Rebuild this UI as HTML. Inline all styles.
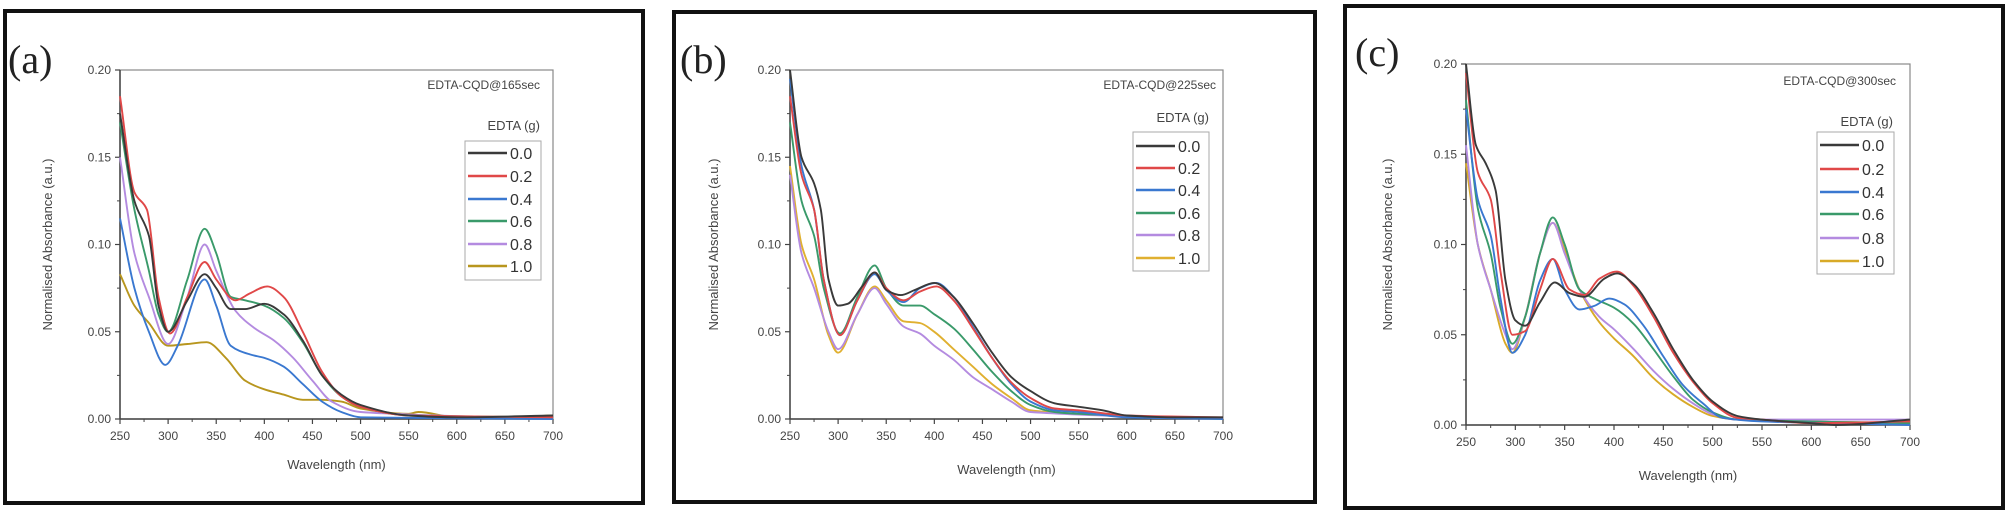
<!DOCTYPE html>
<html><head><meta charset="utf-8">
<style>
html,body{margin:0;padding:0;background:#fff;}
body{width:2008px;height:513px;overflow:hidden;position:relative;}
svg{position:absolute;left:0;top:0;}
</style></head>
<body>
<svg id="s" width="2008" height="513" xmlns="http://www.w3.org/2000/svg" font-family="Liberation Sans, sans-serif">
<rect x="5" y="11" width="638" height="492" fill="none" stroke="#111" stroke-width="4"/>
<rect x="674" y="12" width="641" height="490" fill="none" stroke="#111" stroke-width="4"/>
<rect x="1345" y="6" width="658" height="502" fill="none" stroke="#111" stroke-width="4"/>
</svg>
<script>
const S=document.getElementById('s');const NS='http://www.w3.org/2000/svg';
function el(t,a,txt){const e=document.createElementNS(NS,t);for(const k in a)e.setAttribute(k,a[k]);if(txt!==undefined)e.textContent=txt;S.appendChild(e);return e;}
const C={k:'#3a3a3a',r:'#e04848',b:'#3a78d0',g:'#3a9a6a',p:'#b48be0'};
function P(a){const o=[];for(let i=0;i<a.length;i+=2)o.push([a[i],a[i+1]]);return o;}
const panels=[
{L:120,R:553,T:70,B:419,lab:'(a)',lx:8,ly:73,title:'EDTA-CQD@165sec',tx:540,ty:89,ex:540,ey:130,box:[465,141,76,139],ent:[153,176,199,221,244,266],xly:469,gold:'#b8961e',
 yl:'Normalised  Absorbance (a.u.)',ylx:52,
 s:{k:P([250,.175,265,.125,280,.105,290,.065,300,.05,320,.068,338,.083,350,.075,365,.063,380,.063,400,.066,420,.06,440,.045,460,.025,480,.014,500,.008,550,.002,600,.001,700,.002]),
 r:P([250,.185,265,.13,278,.12,290,.07,302,.049,320,.07,338,.09,350,.08,370,.068,385,.072,403,.076,420,.07,440,.05,460,.027,480,.013,500,.007,550,.002,700,.001]),
 b:P([250,.115,265,.075,280,.05,297,.031,310,.042,338,.08,350,.065,365,.042,385,.037,400,.035,420,.03,440,.02,460,.01,480,.004,500,.001,700,0]),
 g:P([250,.17,265,.12,280,.085,290,.06,300,.05,320,.08,338,.109,350,.095,365,.07,380,.068,400,.065,420,.058,440,.044,460,.025,480,.013,500,.007,550,.002,700,.001]),
 p:P([250,.15,265,.095,280,.07,300,.043,320,.07,338,.1,350,.085,370,.062,390,.052,410,.045,430,.035,450,.022,470,.01,500,.004,700,0]),
 y:P([250,.083,265,.065,280,.055,300,.042,320,.043,340,.044,360,.035,380,.022,400,.017,420,.014,440,.011,460,.011,480,.01,500,.006,550,.003,560,.004,600,.001,650,.001,700,.002])}},
{L:790,R:1223,T:70,B:419,lab:'(b)',lx:680,ly:73,title:'EDTA-CQD@225sec',tx:1216,ty:89,ex:1209,ey:122,box:[1133,132,76,139],ent:[146,168,190,213,235,258],xly:474,gold:'#e0b030',
 yl:'Normalised Absorbance (a.u.)',ylx:718,
 s:{k:P([250,.2,262,.15,275,.135,282,.12,290,.08,300,.065,310,.066,325,.076,338,.084,350,.074,365,.071,380,.074,400,.078,420,.07,440,.055,460,.038,480,.024,500,.016,525,.009,550,.007,575,.005,600,.002,650,.001,700,.001]),
 r:P([250,.185,262,.14,275,.12,285,.08,302,.048,320,.068,338,.084,350,.075,368,.068,385,.073,402,.076,420,.068,440,.052,460,.035,480,.021,500,.012,525,.006,550,.005,600,.002,700,.001]),
 b:P([250,.195,262,.145,275,.12,285,.08,302,.048,320,.068,338,.083,350,.074,368,.067,385,.075,402,.078,420,.07,440,.053,460,.035,480,.02,500,.01,525,.005,550,.004,600,.001,700,0]),
 g:P([250,.17,262,.125,275,.105,285,.075,302,.049,320,.07,338,.088,350,.075,368,.065,385,.065,400,.06,420,.052,440,.04,460,.027,480,.016,500,.008,525,.004,550,.003,700,0]),
 p:P([250,.14,262,.095,275,.075,290,.05,300,.04,320,.06,338,.075,350,.066,368,.053,385,.049,400,.042,420,.034,440,.024,460,.017,480,.01,500,.004,700,0]),
 y:P([250,.145,262,.1,275,.08,290,.048,300,.038,320,.06,338,.076,350,.068,368,.056,385,.055,400,.05,420,.04,440,.03,460,.02,480,.012,500,.005,550,.003,700,0])}},
{L:1466,R:1910,T:64,B:425,lab:'(c)',lx:1355,ly:66,title:'EDTA-CQD@300sec',tx:1896,ty:85,ex:1893,ey:126,box:[1817,132,77,142],ent:[145,169,192,214,238,261],xly:480,gold:'#d8aa28',
 yl:'Normalised Absorbance (a.u.)',ylx:1392,
 s:{k:P([250,.2,260,.155,270,.145,280,.13,290,.08,300,.058,310,.055,325,.068,340,.079,355,.073,370,.071,390,.081,403,.084,420,.078,440,.062,460,.042,480,.025,500,.013,525,.005,550,.003,600,.001,625,0,700,.003]),
 r:P([250,.195,262,.14,275,.125,285,.085,297,.05,310,.052,325,.075,338,.092,355,.075,370,.072,385,.081,403,.085,420,.077,440,.06,460,.04,480,.024,500,.012,525,.004,550,.003,600,.001,700,.002]),
 b:P([250,.175,262,.125,275,.105,285,.07,297,.04,310,.05,325,.08,338,.092,350,.075,365,.064,380,.066,395,.07,410,.067,430,.055,450,.038,470,.022,490,.012,510,.004,550,.002,700,0]),
 g:P([250,.18,262,.12,275,.095,285,.065,297,.045,310,.06,325,.095,338,.115,350,.1,365,.075,380,.07,400,.065,420,.056,440,.042,460,.027,480,.014,500,.007,525,.003,700,.001]),
 p:P([250,.155,262,.1,275,.075,290,.05,297,.042,310,.06,325,.095,338,.112,350,.095,365,.075,385,.06,400,.053,420,.042,440,.03,460,.02,480,.012,500,.006,525,.003,700,.003]),
 y:P([250,.145,262,.1,275,.075,290,.045,297,.04,310,.06,325,.095,338,.112,350,.097,365,.075,385,.057,400,.048,420,.038,440,.026,460,.017,480,.01,500,.005,525,.003,700,.001])}}
];
function path(pts,X,Y){
 const n=pts.length,m=[];
 for(let i=0;i<n;i++){
  if(i==0) m.push((pts[1][1]-pts[0][1])/(pts[1][0]-pts[0][0]));
  else if(i==n-1) m.push((pts[n-1][1]-pts[n-2][1])/(pts[n-1][0]-pts[n-2][0]));
  else{const d0=(pts[i][1]-pts[i-1][1])/(pts[i][0]-pts[i-1][0]),d1=(pts[i+1][1]-pts[i][1])/(pts[i+1][0]-pts[i][0]);
   m.push(d0*d1<=0?0:2/(1/d0+1/d1));}
 }
 let d='M'+X(pts[0][0]).toFixed(1)+','+Y(pts[0][1]).toFixed(1);
 for(let i=0;i<n-1;i++){const h=pts[i+1][0]-pts[i][0];
  const c1x=pts[i][0]+h/3,c1y=pts[i][1]+m[i]*h/3,c2x=pts[i+1][0]-h/3,c2y=pts[i+1][1]-m[i+1]*h/3;
  d+='C'+X(c1x).toFixed(1)+','+Y(c1y).toFixed(1)+' '+X(c2x).toFixed(1)+','+Y(c2y).toFixed(1)+' '+X(pts[i+1][0]).toFixed(1)+','+Y(pts[i+1][1]).toFixed(1);}
 return d;}
for(const p of panels){
 const X=w=>p.L+(w-250)/450*(p.R-p.L),Y=v=>p.B-v/0.2*(p.B-p.T);
 const cols=[['k',C.k],['r',C.r],['b',C.b],['g',C.g],['p',C.p],['y',p.gold]];
 el('rect',{x:p.L,y:p.T,width:p.R-p.L,height:p.B-p.T,fill:'none',stroke:'#888','stroke-width':1.2});
 el('line',{x1:p.L,y1:p.T,x2:p.L,y2:p.B,stroke:'#444','stroke-width':1.5});
 el('line',{x1:p.L,y1:p.B,x2:p.R,y2:p.B,stroke:'#444','stroke-width':1.5});
 for(let w=250;w<=700;w+=50){el('line',{x1:X(w),y1:p.B,x2:X(w),y2:p.B+5,stroke:'#444','stroke-width':1.2});
  el('text',{x:X(w),y:p.B+21,'font-size':12,fill:'#444','text-anchor':'middle'},String(w));
  if(w<700)el('line',{x1:X(w+25),y1:p.B,x2:X(w+25),y2:p.B+3,stroke:'#444'});}
 for(let i=0;i<=4;i++){const v=i*0.05;el('line',{x1:p.L-5,y1:Y(v),x2:p.L,y2:Y(v),stroke:'#444','stroke-width':1.2});
  el('text',{x:p.L-9,y:Y(v)+4,'font-size':12,fill:'#444','text-anchor':'end'},v.toFixed(2));
  if(i<4)el('line',{x1:p.L-3,y1:Y(v+0.025),x2:p.L,y2:Y(v+0.025),stroke:'#444'});}
 for(const [k,c] of cols.slice().reverse())el('path',{d:path(p.s[k],X,Y),fill:'none',stroke:c,'stroke-width':1.9});
 el('text',{x:p.lx,y:p.ly,'font-size':40,fill:'#222','font-family':'Liberation Serif, serif'},p.lab);
 el('text',{x:p.tx,y:p.ty,'font-size':12,fill:'#444','text-anchor':'end'},p.title);
 el('text',{x:p.ex,y:p.ey,'font-size':13,fill:'#444','text-anchor':'end'},'EDTA (g)');
 el('rect',{x:p.box[0],y:p.box[1],width:p.box[2],height:p.box[3],fill:'#fff',stroke:'#aaa'});
 const labs=['0.0','0.2','0.4','0.6','0.8','1.0'];
 cols.forEach(([k,c],i)=>{const yy=p.ent[i];el('line',{x1:p.box[0]+3,y1:yy,x2:p.box[0]+42,y2:yy,stroke:c,'stroke-width':2.4});
  el('text',{x:p.box[0]+45,y:yy+6,'font-size':16,fill:'#333'},labs[i]);});
 el('text',{x:(p.L+p.R)/2,y:p.xly,'font-size':13,fill:'#444','text-anchor':'middle'},'Wavelength (nm)');
 const cy=(p.T+p.B)/2;el('text',{x:p.ylx,y:cy,'font-size':13,fill:'#444','text-anchor':'middle',transform:`rotate(-90 ${p.ylx} ${cy})`},p.yl);
}
</script>
</body></html>
